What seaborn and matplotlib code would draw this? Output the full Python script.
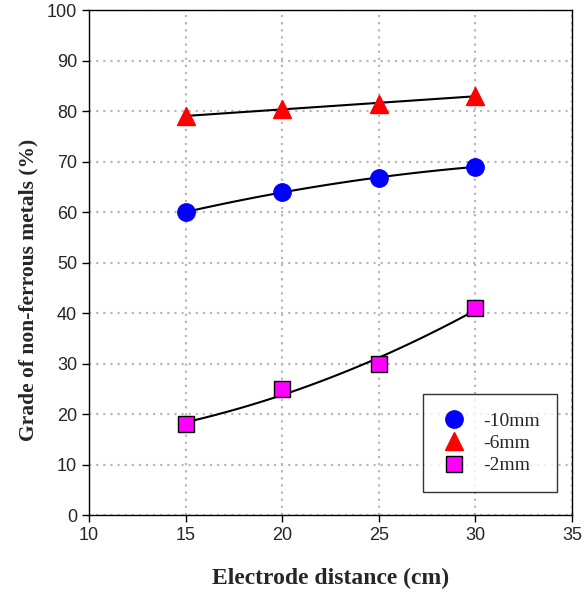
import matplotlib
matplotlib.use("Agg")
import matplotlib.pyplot as plt
import seaborn as sns
import numpy as np
import pandas as pd

distance = [15, 20, 25, 30]
grade_10mm = [60, 64, 66.8, 69]
grade_6mm = [79, 80.5, 81.5, 83]
grade_2mm = [18, 25, 30, 41]
labels = ["-10mm", "-6mm", "-2mm"]

sns.set_style("white")
plt.rcParams['font.family'] = ['Liberation Sans', 'DejaVu Sans']

fig = plt.figure(figsize=(5.85, 5.97), dpi=100)
ax = fig.add_axes([0.152, 0.137, 0.826, 0.846])

series = [
    (grade_10mm, "o", "#0000ff", "#0000ff", 12.5),
    (grade_6mm, "^", "#ff0000", "#ff0000", 12.5),
    (grade_2mm, "s", "#ff00ff", "black", 11),
]
for (vals, m, fc, ec, ms), lab in zip(series, labels):
    d = pd.DataFrame({"x": distance, "y": vals})
    sns.regplot(data=d, x="x", y="y", order=2, ci=None, scatter=False,
                line_kws=dict(color="black", lw=1.5), ax=ax, truncate=True)
for (vals, m, fc, ec, ms), lab in zip(series, labels):
    ax.plot(distance, vals, linestyle="none", marker=m, markersize=ms,
            markerfacecolor=fc, markeredgecolor=ec, markeredgewidth=1.0,
            label=lab, zorder=5)

ax.set_xlim(10, 35)
ax.set_ylim(0, 100)
ax.set_xticks([10, 15, 20, 25, 30, 35])
ax.set_yticks(range(0, 101, 10))
ax.grid(True, color="#b8b8b8", linestyle=(0, (1, 2.2)), linewidth=1.6)
for s in ax.spines.values():
    s.set_color("black")
    s.set_linewidth(1.0)
ax.tick_params(axis="both", direction="out", length=5, width=1, color="black",
               labelsize=13, bottom=True, left=True)
ax.set_xlabel("Electrode distance (cm)", fontfamily="Liberation Serif",
              fontweight="bold", fontsize=17, labelpad=17)
ax.set_ylabel("Grade of non-ferrous metals (%)", fontfamily="Liberation Serif",
              fontweight="bold", fontsize=15.5)
ax.yaxis.set_label_coords(-0.104, 0.446)

leg = ax.legend(loc="lower right", bbox_to_anchor=(0.969, 0.046),
                frameon=True, fancybox=False, edgecolor="black",
                prop={"family": "Liberation Serif", "size": 14},
                borderpad=0.9, labelspacing=0.25, handletextpad=0.8,
                handlelength=1.4, borderaxespad=0)
leg.get_frame().set_linewidth(1.0)

fig.savefig("out.png", dpi=100)
